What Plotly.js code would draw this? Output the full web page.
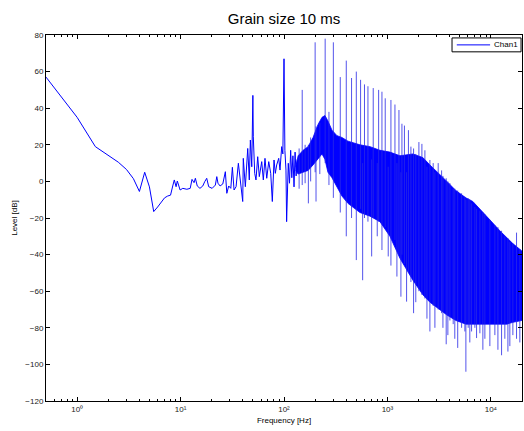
<!DOCTYPE html>
<html>
<head>
<meta charset="utf-8">
<script src="https://cdn.plot.ly/plotly-3.0.1.min.js"></script>
<style>html,body{margin:0;padding:0;background:#fff;}#chart{width:524px;height:431px;}</style>
</head>
<body>
<div id="chart"></div>
<script>
// Low-frequency part of the spectrum (Hz, dB)
var lowHz = [0.5,1,1.5,2,2.5,3,3.5,4,4.5,5,5.5,6,6.5,7,7.5,8,8.4,8.7,9.05,9.3,9.9,10.5,11.5,12.4,12.9,13.5,13.9,14.5,15.4,16.4,17.1,17.9,18.7,20.2,21.7,22.4,23,24.1,25.6,27.1,28,29.2,30.6,31.7,32.9,34.4,36.2,37.6,39.9,40.4,42.3,44.6,46.2,47.3,48.8,50,50.5,52.1,53.6,55.7,57.7,60.9,63.1,65.5,68.1,71.2,74.4,77.1,80.1,82.4,85,88.9,91.5,95,97.5,100,102,104.5,106,110,113,116,119,122,125,128,131,134];
var lowDb = [57,35,19,14,10.5,6.5,1.5,-5.5,5,-3,-16.5,-14,-11.5,-9,-8,-7.5,-2.5,0.8,-2.9,0.2,-4.7,-3.8,-4.3,-3.8,1.1,-0.7,1.7,-2.5,-3.8,-2.5,-0.2,1.7,-2.9,-3.8,-2,2.6,-1,-2.5,-1.4,5.3,-6.5,-2.5,-3.8,7.7,-4.7,-2.9,9.9,0.8,-11,12.6,-2.9,18,0.8,22.6,8,47,24.4,4.4,0.8,13.5,2.6,10.8,0.8,12.6,1.7,10.8,4.4,-11,11.7,4.4,9,12.6,6.2,19,15,67,17,6.2,-22,9.9,-1,17,2,14,-3,16,3,12];

// Dense band of the spectrum: solid core upper/lower edges (Hz, dB)
var bandHz = [130,137,153,171,191,213,233,249,266,291,325,363,415,464,542,678,847,1057,1321,1763,2203,2574,3215,3757,4589,5734,6700,7830,9779,12218,14276,16320,19930,22000];
var bandHi = [8,14,17,19,24,31,35,36,33,28,25,24,22,21,20,19,17,16,14,15,13,9,4,0,-5,-9,-11,-15,-21,-27,-31,-34,-38,-39];
var bandLo = [6,4,5,6,9,12,15,12,5,2,-3,-8,-12,-14,-17,-19,-22,-30,-42,-54,-62,-66,-70,-73,-76,-78,-78,-78,-78,-78,-78,-77,-76,-75];

// Harmonic peaks and dips (Hz, top dB, bottom dB)
var spikeHz = [140,150,160,172,181,200,204,222,250,272,300,350,400,450,500,550,576,600,648,704,729,797,822,885,952,1018,1081,1182,1235,1292,1350,1381,1460,1532,1596,1687,1790,1880,2015,2154,2303,2410,2574,2770,2877,3096,3340,3440,3700,3840,4018,4323,4480,4780,5213,5607,5734,6035,6260,6509,7005,7274,7830,8370,8750,9779,10930,11700,12690,13650,14620,15260,16320,17710,19060];
var spikeTop = [18,50,20,20,24,76,30,32,78,38,76,57,66,56.5,60,55.5,10,53,52,12,51,10,50,49,45.4,8,44.5,42,10,39,5,31.5,30.5,5,28,19,18,15,21.5,20.5,17,8,11.7,10,5,10,6,3,1.7,0,-1,-4,-4,-5,-6.5,-8.4,-10,-9.2,-10,-12,-14,-15,-16,-17,-18,-21,-24,-25,-27,-30,-31,-33,-34,-28,-37];
var spikeBot = [-4,-2,-1,-12,0,5,-11,4,10,-2,-9,-17,-30,-20,-43,-15,-54,-20,-22,-41,-20,-30,-22,-37.5,-25,-41,-46,-32,-52,-40,-63,-40,-45,-65.7,-50,-55,-72,-66,-60,-62,-64,-75,-82,-68,-80,-70,-72,-80,-89,-84,-76,-78,-86,-91,-80,-82,-104,-80,-88,-82,-80,-85.6,-83,-92,-86,-90,-84,-92,-95,-86,-93,-90,-84,-86,-88];

var xTickVals = [1,10,100,1000,10000];
var xTickText = ['10\u2070','10\u00B9','10\u00B2','10\u00B3','10\u2074'];
var yTickVals = [-120,-100,-80,-60,-40,-20,0,20,40,60,80];
var seriesName = 'Chan1';

var BLUE = '#0000ff';

var sx = [], sy = [];
for (var i = 0; i < spikeHz.length; i++) {
  sx.push(spikeHz[i], spikeHz[i], null);
  sy.push(spikeBot[i], spikeTop[i], null);
}

var minorVals = [];
for (var d = -1; d <= 4; d++) {
  for (var k = 2; k <= 9; k++) minorVals.push(k * Math.pow(10, d));
}

var traces = [
  {x: lowHz, y: lowDb, type: 'scatter', mode: 'lines', name: seriesName,
   line: {color: BLUE, width: 1}},
  {x: bandHz, y: bandLo, type: 'scatter', mode: 'lines',
   line: {color: BLUE, width: 0.8}, hoverinfo: 'skip'},
  {x: bandHz, y: bandHi, type: 'scatter', mode: 'lines',
   fill: 'tonexty', fillcolor: BLUE, line: {color: BLUE, width: 0.8}, hoverinfo: 'skip'},
  {x: sx, y: sy, type: 'scatter', mode: 'lines', connectgaps: false,
   line: {color: 'rgba(40,40,230,0.8)', width: 1}, hoverinfo: 'skip'}
];

var FONT = 'Liberation Sans, Arial, sans-serif';
var tickFont = {family: FONT, size: 8, color: '#222'};

var layout = {
  width: 524, height: 431,
  margin: {l: 46, r: 2, t: 35, b: 30, pad: 0},
  paper_bgcolor: '#fff', plot_bgcolor: '#fff',
  title: {text: 'Grain size 10 ms', font: {family: FONT, size: 15, color: '#000'},
          x: 0.542, xanchor: 'center', y: 0.956, yanchor: 'middle'},
  showlegend: false,
  shapes: [
    {type: 'rect', xref: 'paper', yref: 'paper', x0: 0.853, x1: 0.998, y0: 0.954, y1: 0.992,
     line: {color: '#000', width: 1}, fillcolor: '#fff', layer: 'above'},
    {type: 'line', xref: 'paper', yref: 'paper', x0: 0.863, x1: 0.933, y0: 0.973, y1: 0.973,
     line: {color: BLUE, width: 1}, layer: 'above'}
  ],
  annotations: [
    {text: seriesName, xref: 'paper', yref: 'paper', x: 0.937, y: 0.973, xanchor: 'left', yanchor: 'middle',
     showarrow: false, font: {family: FONT, size: 8, color: '#000'}}
  ],
  xaxis: {type: 'log', range: [Math.log10(0.5), Math.log10(20000)], tickmode: 'array', tickvals: xTickVals, ticktext: xTickText,
          ticks: 'inside', ticklen: 4, tickcolor: '#000', showline: true, linecolor: '#000', linewidth: 1, mirror: 'ticks',
          showgrid: false, zeroline: false, tickfont: tickFont,
          minor: {tickmode: 'array', tickvals: minorVals, ticks: 'inside', ticklen: 2, tickcolor: '#000', showgrid: false},
          title: {text: 'Frequency [Hz]', font: {family: FONT, size: 8, color: '#000'}, standoff: 4}},
  yaxis: {range: [-120, 80], tickmode: 'array', tickvals: yTickVals,
          ticks: 'inside', ticklen: 4, tickcolor: '#000', showline: true, linecolor: '#000', linewidth: 1, mirror: 'ticks',
          showgrid: false, zeroline: false, tickfont: tickFont,
          title: {text: 'Level [dB]', font: {family: FONT, size: 8, color: '#000'}, standoff: 6}}
};

Plotly.newPlot('chart', traces, layout, {displayModeBar: false, staticPlot: true});
</script>
</body>
</html>
